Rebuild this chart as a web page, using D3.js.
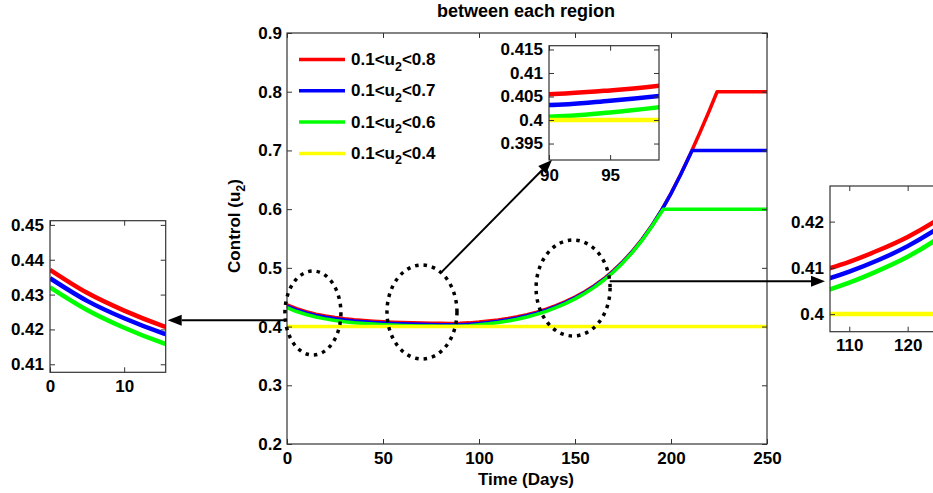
<!DOCTYPE html>
<html>
<head>
<meta charset="utf-8">
<script src="https://cdn.jsdelivr.net/npm/d3@7"></script>
<style>
  body { margin: 0; background: #fff; }
  svg text { font-family: "Liberation Sans", Arial, sans-serif; font-weight: bold; fill: #000; }
</style>
</head>
<body>
<svg id="chart" width="933" height="493"></svg>
<script>
// ---- data -------------------------------------------------------------
const redDays   = [0,5,10,15,20,25,30,35,40,45,50,55,60,65,70,75,80,85,90,95,100,105,110,115,120,125,130,135,140,145,150,155,160,165,170,175,180,185,190,195,200,205,210,215,220,224,250];
const redValues = [0.4371,0.4305,0.4254,0.4212,0.4180,0.4153,0.4132,0.4115,0.4102,0.4091,0.4082,0.4075,0.4069,0.4064,0.4060,0.4057,0.4055,0.4054,0.4055,0.4063,0.4076,0.4093,0.4113,0.4138,0.4167,0.4203,0.4246,0.4297,0.4356,0.4425,0.4504,0.4593,0.4696,0.4815,0.4953,0.5110,0.5288,0.5490,0.5720,0.5980,0.6270,0.6590,0.6935,0.7300,0.7680,0.8000,0.8000];

const blueDays   = [0,5,10,15,20,25,30,35,40,45,50,55,60,65,70,75,80,85,90,95,100,105,110,115,120,125,130,135,140,145,150,155,160,165,170,175,180,185,190,195,200,205,210,211,250];
const blueValues = [0.4347,0.4282,0.4232,0.4191,0.4159,0.4132,0.4111,0.4094,0.4081,0.4070,0.4061,0.4053,0.4047,0.4042,0.4038,0.4035,0.4033,0.4032,0.4032,0.4041,0.4054,0.4071,0.4092,0.4117,0.4147,0.4184,0.4227,0.4279,0.4339,0.4408,0.4488,0.4578,0.4682,0.4802,0.4941,0.5099,0.5278,0.5481,0.5712,0.5973,0.6264,0.6585,0.6931,0.7000,0.7000];

const greenDays   = [0,5,10,15,20,25,30,35,40,45,50,55,60,65,70,75,80,85,90,95,100,105,110,115,120,125,130,135,140,145,150,155,160,165,170,175,180,185,190,195,196,250];
const greenValues = [0.4321,0.4256,0.4205,0.4163,0.4131,0.4104,0.4083,0.4066,0.4053,0.4042,0.4033,0.4026,0.4020,0.4015,0.4011,0.4008,0.4006,0.4006,0.4007,0.4016,0.4030,0.4047,0.4068,0.4094,0.4124,0.4162,0.4207,0.4260,0.4321,0.4391,0.4472,0.4563,0.4668,0.4789,0.4929,0.5088,0.5268,0.5472,0.5703,0.5952,0.6000,0.6000];

const yellowDays   = [0,250];
const yellowValues = [0.4,0.4];

const seriesColors = ["#ff0000","#0000ff","#00ff00","#ffff00"];
const legendLower  = ["0.1","0.1","0.1","0.1"];
const legendUpper  = ["0.8","0.7","0.6","0.4"];

const xTicks = [0,50,100,150,200,250];
const yTicks = [0.2,0.3,0.4,0.5,0.6,0.7,0.8,0.9];

const leftInsetXTicks  = [0,10];
const leftInsetYTicks  = [0.41,0.42,0.43,0.44,0.45];
const topInsetXTicks   = [90,95];
const topInsetYTicks   = [0.395,0.4,0.405,0.41,0.415];
const rightInsetXTicks = [110,120];
const rightInsetYTicks = [0.4,0.41,0.42];

// ---- setup ------------------------------------------------------------
const svg = d3.select("#chart");
const series = [
  {days: redDays, values: redValues},
  {days: blueDays, values: blueValues},
  {days: greenDays, values: greenValues},
  {days: yellowDays, values: yellowValues}
].map((s, i) => ({points: d3.zip(s.days, s.values), color: seriesColors[i]}));

const frame = {left: 287, right: 767, top: 33, bottom: 444};
const x = d3.scaleLinear().domain([0, 250]).range([frame.left, frame.right]);
const y = d3.scaleLinear().domain([0.2, 0.9]).range([frame.bottom, frame.top]);

const fmt = d => String(d);
const FS = 17;

function boxAxes(g, xs, ys, xt, yt, opts) {
  const w = xs.range()[1] - xs.range()[0];
  const h = ys.range()[0] - ys.range()[1];
  const x0 = xs.range()[0], y0 = ys.range()[1];
  const style = sel => {
    sel.select(".domain").remove();
    sel.selectAll(".tick line").attr("stroke", "#333").attr("stroke-width", 1);
    sel.selectAll("text").attr("font-size", FS).attr("fill", "#000");
  };
  g.append("g").attr("transform", `translate(0,${y0 + h})`)
    .call(d3.axisBottom(xs).tickValues(xt).tickFormat(fmt).tickSize(-5).tickPadding(opts.xPad))
    .call(style);
  g.append("g").attr("transform", `translate(0,${y0})`)
    .call(d3.axisTop(xs).tickValues(xt).tickFormat("").tickSize(-5))
    .call(style);
  g.append("g").attr("transform", `translate(${x0},0)`)
    .call(d3.axisLeft(ys).tickValues(yt).tickFormat(fmt).tickSize(-5).tickPadding(opts.yPad))
    .call(style);
  g.append("g").attr("transform", `translate(${x0 + w},0)`)
    .call(d3.axisRight(ys).tickValues(yt).tickFormat("").tickSize(-5))
    .call(style);
  g.append("rect").attr("x", x0).attr("y", y0).attr("width", w).attr("height", h)
    .attr("fill", "none").attr("stroke", "#333").attr("stroke-width", 1.2);
}

// ---- main plot --------------------------------------------------------
svg.append("rect").attr("x", frame.left).attr("y", frame.top)
  .attr("width", frame.right - frame.left).attr("height", frame.bottom - frame.top)
  .attr("fill", "#fff");

const mainLine = d3.line().x(d => x(d[0])).y(d => y(d[1]));
const mainG = svg.append("g");
series.forEach(s => {
  mainG.append("path").attr("d", mainLine(s.points))
    .attr("fill", "none").attr("stroke", s.color).attr("stroke-width", 3.5)
    .attr("stroke-linejoin", "round");
});

boxAxes(svg.append("g"), x, y, xTicks, yTicks, {xPad: 8, yPad: 5});

svg.append("text").attr("x", 526).attr("y", 17).attr("text-anchor", "middle")
  .attr("font-size", 18).text("between each region");
svg.append("text").attr("x", 526).attr("y", 485).attr("text-anchor", "middle")
  .attr("font-size", FS).text("Time (Days)");
const yl = svg.append("text").attr("transform", "translate(240,226) rotate(-90)")
  .attr("text-anchor", "middle").attr("font-size", FS);
yl.append("tspan").text("Control (u");
yl.append("tspan").attr("font-size", 12.5).attr("dy", 5).text("2");
yl.append("tspan").attr("dy", -5).text(")");

// legend
const legendG = svg.append("g");
seriesColors.forEach((c, i) => {
  const ly = 59.5 + i * 31.3;
  legendG.append("line").attr("x1", 299).attr("x2", 345).attr("y1", ly).attr("y2", ly)
    .attr("stroke", c).attr("stroke-width", 3.5);
  const t = legendG.append("text").attr("x", 351).attr("y", ly + 5.5).attr("font-size", FS);
  t.append("tspan").text(legendLower[i] + "<u");
  t.append("tspan").attr("font-size", 12.5).attr("dy", 5.5).text("2");
  t.append("tspan").attr("dy", -5.5).text("<" + legendUpper[i]);
});

// ---- zoom ellipses ----------------------------------------------------
const ellipses = [
  {t: 13.5, v: 0.4231, rx: 28, ry: 42},
  {t: 70.3, v: 0.4248, rx: 35, ry: 47},
  {t: 149,  v: 0.4657, rx: 37, ry: 48}
];
ellipses.forEach(e => {
  svg.append("ellipse").attr("cx", x(e.t)).attr("cy", y(e.v))
    .attr("rx", e.rx).attr("ry", e.ry)
    .attr("fill", "none").attr("stroke", "#000").attr("stroke-width", 3.5)
    .attr("stroke-dasharray", "3.5 5");
});

// ---- insets -----------------------------------------------------------
const insets = [
  {box: [50, 220.7, 165.7, 372.3], xd: [0, 15.6], yd: [0.4077, 0.4512], xt: leftInsetXTicks, yt: leftInsetYTicks, xPad: 7.5, yPad: 6},
  {box: [549, 45.7, 659, 160], xd: [90, 99], yd: [0.3915, 0.4158], xt: topInsetXTicks, yt: topInsetYTicks, xPad: 8.5, yPad: 6},
  {box: [830, 186, 943, 331.7], xd: [106.7, 126.05], yd: [0.3962, 0.4277], xt: rightInsetXTicks, yt: rightInsetYTicks, xPad: 7, yPad: 6}
];
insets.forEach((ins, k) => {
  const [l, t, r, b] = ins.box;
  const xs = d3.scaleLinear().domain(ins.xd).range([l, r]);
  const ys = d3.scaleLinear().domain(ins.yd).range([b, t]);
  const g = svg.append("g");
  g.append("rect").attr("x", l).attr("y", t).attr("width", r - l).attr("height", b - t).attr("fill", "#fff");
  const clipId = "inset-clip-" + k;
  svg.append("clipPath").attr("id", clipId).append("rect")
    .attr("x", l).attr("y", t).attr("width", r - l).attr("height", b - t);
  const line = d3.line().x(d => xs(d[0])).y(d => ys(d[1])).curve(d3.curveMonotoneX);
  const lg = g.append("g").attr("clip-path", `url(#${clipId})`);
  series.forEach(s => {
    lg.append("path").attr("d", line(s.points)).attr("fill", "none")
      .attr("stroke", s.color).attr("stroke-width", 4.5);
  });
  boxAxes(g, xs, ys, ins.xt, ins.yt, {xPad: ins.xPad, yPad: ins.yPad});
});

// ---- arrows -----------------------------------------------------------
function arrow(x1, y1, x2, y2) {
  const a = Math.atan2(y2 - y1, x2 - x1), len = 14, hw = 5.5;
  const bx = x2 - len * Math.cos(a), by = y2 - len * Math.sin(a);
  svg.append("line").attr("x1", x1).attr("y1", y1).attr("x2", bx).attr("y2", by)
    .attr("stroke", "#000").attr("stroke-width", 2);
  const px = -Math.sin(a) * hw, py = Math.cos(a) * hw;
  svg.append("path")
    .attr("d", `M${x2},${y2}L${bx + px},${by + py}L${bx - px},${by - py}Z`)
    .attr("fill", "#000");
}
function onEllipse(e, deg) {
  const r = deg * Math.PI / 180;
  return [x(e.t) + e.rx * Math.cos(r), y(e.v) + e.ry * Math.sin(r)];
}
{
  const p1 = onEllipse(ellipses[0], 170);
  arrow(p1[0], p1[1], insets[0].box[2] + 2, p1[1]);
  const p2 = onEllipse(ellipses[1], -57);
  arrow(p2[0], p2[1], insets[1].box[0] + 3, insets[1].box[3]);
  const p3 = onEllipse(ellipses[2], -8);
  arrow(p3[0], p3[1], insets[2].box[0] - 5, p3[1]);
}
</script>
</body>
</html>
